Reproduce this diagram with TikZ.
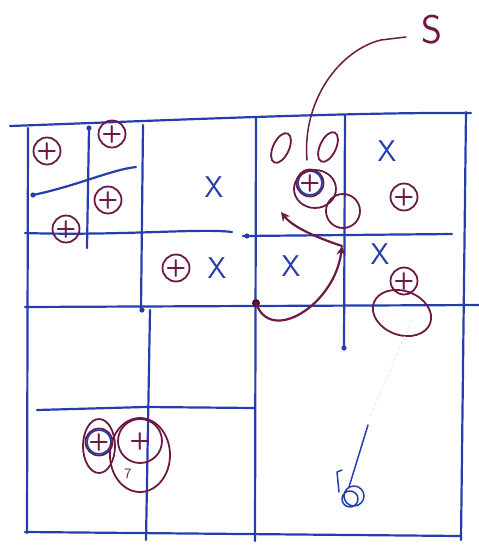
\documentclass[tikz,border=0pt]{standalone}
\usetikzlibrary{arrows.meta,calc}
\definecolor{pen}{RGB}{38,62,172}
\definecolor{ink}{RGB}{108,26,68}
\begin{document}
\begin{tikzpicture}[x=1pt,y=-1pt,line cap=round,line join=round,
  grid/.style={pen,line width=2.2pt},
  occ/.style={circle,draw=ink,text=ink,line width=1.8pt,minimum size=21pt,inner sep=0pt,font=\sffamily\bfseries\fontsize{24}{24}\selectfont},
  cross/.style={text=pen,font=\sffamily\fontsize{30}{30}\selectfont,inner sep=0pt},
  ring/.style={draw=ink,line width=1.8pt},
  move/.style={ink,line width=2.2pt,-{Stealth[length=9pt,width=9pt]}}]
\useasboundingbox (0,0) rectangle (479,547);
% outer square
\draw[grid] (10,126) .. controls (150,121) and (350,112) .. (471,113);
\draw[grid] (28,128) -- (27,533);
\draw[grid] (25,532) -- (461,536);
\draw[grid] (466,112) -- (461,540);
\draw[grid] (25,307) -- (479,305);
\draw[grid] (256,118) -- (255,541);
% top left quadrant
\draw[grid] (143,125) -- (141,310);
\draw[grid] (25,233) .. controls (120,236) and (200,228) .. (232,232);
\draw[grid] (89,128) -- (87,248);
\draw[grid] (33,195) .. controls (80,185) and (110,170) .. (136,167);
% top right quadrant
\draw[grid] (345,115) -- (344,348);
\draw[grid] (243,236) -- (452,234);
% bottom left quadrant
\draw[grid] (150,310) -- (146,540);
\draw[grid] (37,410) -- (145,407) -- (255,408);
\foreach \p in {(33,195),(89,128),(142,310),(344,348),(247,236)}
  \fill[pen] \p circle (2.6);
% occupied cells
\node[occ] (o1) at (47,151) {+};
\node[occ] (o2) at (112,134) {+};
\node[occ] (o3) at (108,200) {+};
\node[occ] (o4) at (66,229) {+};
\node[occ] (o5) at (176,268) {+};
\node[occ] (o6) at (404,197) {+};
\node[occ] (o7) at (404,281) {+};
\node[occ] (o8) at (310,183) {+};
\draw[pen,line width=1.6pt] (o8) circle (12);
\draw[ring] (315,189) ellipse (21 and 19);
\draw[ring] (343,211) circle (17);
\draw[ring,rotate around={-20:(402,313)}] (402,313) ellipse (30 and 22);
% empty cells
\node[cross] (x1) at (214,187) {X};
\node[cross] (x2) at (217,268) {X};
\node[cross] (x3) at (291,266) {X};
\node[cross] (x4) at (387,151) {X};
\node[cross] (x5) at (380,254) {X};
% zeros
\draw[ring,rotate around={-25:(281,148)}] (281,148) ellipse (8 and 16);
\draw[ring,rotate around={-25:(328,147)}] (328,147) ellipse (8 and 16);
% label S
\node[text=ink,font=\sffamily\fontsize{40}{40}\selectfont] (s) at (432,30) {S};
\draw[ink,line width=1.5pt] (406,37) -- (381,40) .. controls (340,50) and (302,100) .. (307,160);
% moves
\coordinate (a) at (256,303);
\coordinate (b) at (342,246);
\coordinate (c) at (281,212);
\fill[ink!70!black] (a) circle (4);
\draw[move] (a) .. controls (270,345) and (335,305) .. (b);
\draw[move] (b) .. controls (312,236) and (292,226) .. (c);
% bottom left cluster
\node[occ,minimum size=24pt] (q1) at (99,442) {+};
\draw[pen,line width=1.6pt] (q1) circle (12);
\draw[ring] (99,446) ellipse (16 and 27);
\node[occ,minimum size=44pt] (q2) at (140,441) {+};
\draw[ring] (140,455) ellipse (30 and 37);
\node[text=ink,font=\sffamily\Large] (q3) at (128,474) {7};
% bottom right
\draw[pen,line width=1.5pt] (354,496) circle (10) (350,499) circle (8);
\draw[pen,line width=1.5pt] (349,487) -- (368,425);
\draw[pen,line width=1.5pt] (339,492) -- (337,472) -- (342,470);
\draw[gray!15,line width=1pt,dashed] (370,416) -- (412,320);
\end{tikzpicture}
\end{document}
